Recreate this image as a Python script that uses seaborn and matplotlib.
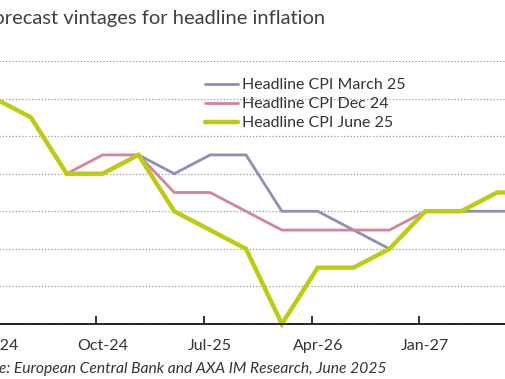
import numpy as np
import pandas as pd
import matplotlib.pyplot as plt
import seaborn as sns

# quarterly points, Jan-24 .. Oct-27
quarters = ["Jan-24", "Apr-24", "Jul-24", "Oct-24", "Jan-25", "Apr-25", "Jul-25", "Oct-25",
            "Jan-26", "Apr-26", "Jul-26", "Oct-26", "Jan-27", "Apr-27", "Jul-27", "Oct-27"]
cpi_mar25 = [2.6, 2.5, 2.2, 2.2, 2.3, 2.2, 2.3, 2.3, 2.0, 2.0, 1.9, 1.8, 2.0, 2.0, 2.0, 2.0]
cpi_dec24 = [2.6, 2.5, 2.2, 2.3, 2.3, 2.1, 2.1, 2.0, 1.9, 1.9, 1.9, 1.9, 2.0, np.nan, np.nan, np.nan]
cpi_jun25 = [2.6, 2.5, 2.2, 2.2, 2.3, 2.0, 1.9, 1.8, 1.4, 1.7, 1.7, 1.8, 2.0, 2.0, 2.1, 2.1]
tick_labels = ["Jan-24", "Oct-24", "Jul-25", "Apr-26", "Jan-27"]

df = pd.DataFrame({"q": np.arange(len(quarters)), "mar": cpi_mar25, "dec": cpi_dec24, "jun": cpi_jun25})

sns.set_theme(style="white")
plt.rcParams['font.family'] = ['Lato', 'DejaVu Sans']

W, H = 505, 379
fig = plt.figure(figsize=(W / 100, H / 100), dpi=100)
# the chart is a crop: the plot area runs past the left and right edges
ax = fig.add_axes([-20 / W, (H - 324) / H, 560 / W, (324 - 61) / H])

sns.lineplot(data=df, x="q", y="mar", color="#8F8FB5", linewidth=2.0, ax=ax, label="Headline CPI March 25")
sns.lineplot(data=df, x="q", y="dec", color="#D4839F", linewidth=2.0, ax=ax, label="Headline CPI Dec 24")
sns.lineplot(data=df, x="q", y="jun", color="#BECB15", linewidth=3.2, ax=ax, label="Headline CPI June 25")
for ln in ax.lines:
    ln.set_clip_on(False)
    ln.set_solid_joinstyle("miter")

ax.set_xlim(-0.418, 15.198)
ax.set_ylim(1.4, 2.8)
ax.set_yticks(np.arange(1.4, 2.81, 0.2))
ax.yaxis.grid(True, color="#9a9a9a", linestyle=(0, (1, 1.6)), linewidth=0.9)
ax.xaxis.grid(False)
ax.tick_params(axis="y", length=0, labelleft=False)

idx = np.arange(0, len(tick_labels) * 3, 3)
ax.set_xticks(idx)
ax.set_xticklabels(tick_labels, fontsize=11.5, color="#333333")
ax.set_xticks(np.arange(0, len(quarters), 3) - 0.17, minor=True)
ax.tick_params(axis="x", which="major", length=0, pad=11)
ax.tick_params(axis="x", which="minor", direction="in", length=6, width=1.3, color="#222222", bottom=True)
ax.set_xlabel("")
ax.set_ylabel("")

for s in ["top", "left", "right"]:
    ax.spines[s].set_visible(False)
ax.spines["bottom"].set_color("#222222")
ax.spines["bottom"].set_linewidth(1.4)

ax.legend(loc="upper left", bbox_to_anchor=(205 / W, 1 - 78 / H), bbox_transform=fig.transFigure,
          frameon=False, fontsize=11.5, handlelength=2.05, handletextpad=0.25, labelspacing=0.3,
          borderpad=0, borderaxespad=0, labelcolor="#333333")

fig.text(325 / W, 1 - 24 / H, "Forecast vintages for headline inflation", ha="right", va="baseline",
         fontsize=14.5, color="#404040")
fig.text(387 / W, 1 - 373 / H, "Source: European Central Bank and AXA IM Research, June 2025", ha="right",
         va="baseline", fontsize=11.25, style="italic", color="#333333")

fig.savefig("out.png", dpi=100)
